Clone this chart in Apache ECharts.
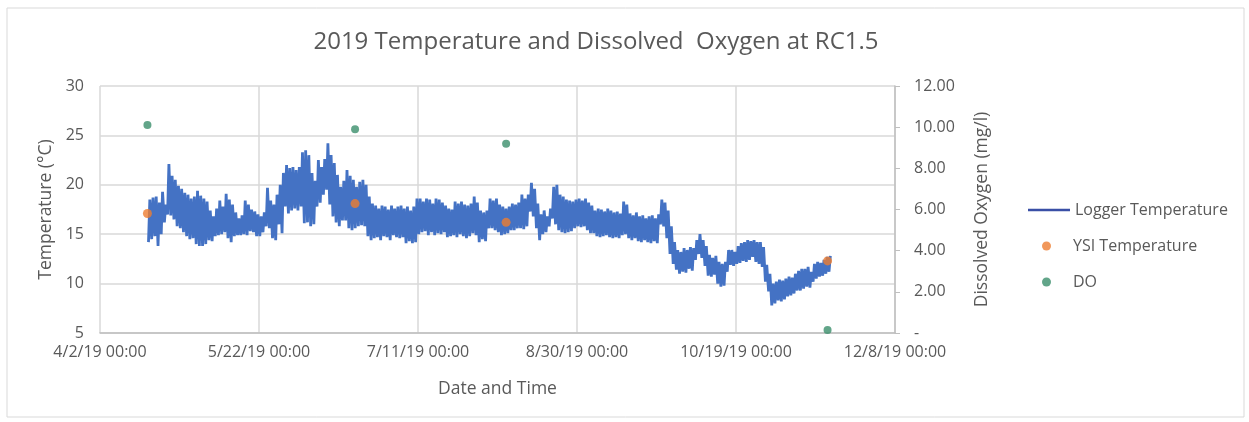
<!DOCTYPE html>
<html>
<head>
<meta charset="utf-8">
<script src="https://cdn.jsdelivr.net/npm/echarts@6/dist/echarts.min.js"></script>
<style>html,body{margin:0;padding:0;background:#fff}#c{width:1249px;height:422px}</style>
</head>
<body>
<div id="c"></div>
<script>
// x axis: days since 4/2/19 00:00
const xTickLabels = ['4/2/19 00:00','5/22/19 00:00','7/11/19 00:00','8/30/19 00:00','10/19/19 00:00','12/8/19 00:00'];
const loggerStart = '2019-04-17T00:00';
// daily maximum / minimum logger temperature (°C), from 4/17 to 11/17
const loggerMax = [
 18.5,18.7,18.8,18.2,19.3,18.0,22.1,20.9,20.5,19.9,
 19.6,19.2,19.0,18.6,18.8,19.4,18.9,18.6,18.3,17.4,
 16.8,17.6,18.4,17.8,19.1,18.5,18.0,17.2,16.6,16.9,
 18.4,18.0,17.5,17.3,17.0,16.8,17.2,19.7,18.4,18.0,
 19.0,20.0,21.2,22.0,21.7,21.8,21.5,21.8,23.3,23.5,
 23.0,21.2,20.4,22.5,21.8,22.6,24.2,23.0,22.2,21.0,
 19.8,20.4,21.5,20.9,20.5,19.8,20.3,20.5,20.0,18.8,
 18.1,17.9,17.6,17.9,17.8,17.5,17.9,17.6,17.8,17.9,
 17.6,17.8,17.4,17.8,18.6,18.6,18.3,18.6,18.5,18.1,
 18.6,18.5,18.2,17.9,17.6,17.5,18.3,18.1,18.3,18.0,
 17.9,18.1,18.8,18.2,17.4,17.2,17.4,18.6,18.4,18.6,
 18.0,17.8,17.6,17.8,18.1,18.0,18.2,19.0,18.6,19.0,
 20.2,19.6,18.1,17.0,17.4,16.8,17.6,19.8,20.0,19.0,
 18.8,18.5,18.4,18.3,18.5,18.6,18.4,18.6,18.2,17.9,
 17.4,17.6,17.5,17.3,17.6,17.4,17.2,17.3,17.1,18.3,
 18.0,17.1,16.9,17.2,16.8,16.9,16.6,16.8,16.9,16.6,
 17.0,18.5,18.2,17.4,15.8,14.2,13.4,13.2,13.6,13.4,
 13.7,13.6,14.4,15.0,14.4,13.8,12.9,12.6,12.8,12.2,
 12.0,12.2,13.4,13.4,13.2,13.8,14.1,14.2,14.4,14.3,
 14.4,14.2,14.2,13.7,11.9,11.0,10.0,10.2,10.4,10.3,
 10.5,10.7,10.6,11.0,11.3,11.5,11.5,11.7,11.2,12.0,
 12.2,12.1,12.4,12.7,12.8
];
const loggerMin = [
 14.2,14.5,14.8,13.8,15.0,16.2,17.0,16.9,16.5,15.8,
 15.6,15.2,14.8,14.5,14.6,14.0,13.8,13.8,14.0,14.4,
 14.3,14.8,14.9,15.0,15.2,14.6,14.2,14.8,14.9,14.9,
 15.0,14.9,15.3,15.2,14.8,14.8,15.2,15.8,15.6,14.6,
 14.4,16.0,15.1,17.8,17.1,17.4,17.6,17.4,17.8,16.1,
 16.2,15.8,16.0,17.8,18.2,19.0,19.5,18.0,16.8,16.2,
 15.8,16.4,16.4,15.6,15.4,15.6,15.8,15.9,15.8,14.8,
 14.4,14.6,14.7,14.4,14.8,14.7,14.4,14.9,14.7,14.6,
 14.7,14.1,14.3,14.1,14.2,15.0,15.2,15.3,14.9,15.2,
 14.9,15.1,15.0,15.2,14.7,14.8,14.9,14.7,15.0,14.8,
 14.6,14.8,15.1,14.9,14.2,14.5,14.3,15.6,15.6,15.4,
 15.2,14.9,15.0,15.1,15.4,15.4,15.6,15.6,15.5,15.8,
 17.3,16.8,15.6,14.4,15.0,15.2,15.8,16.6,16.0,15.4,
 15.2,15.1,15.2,15.3,15.6,15.8,15.7,15.8,15.4,15.1,
 15.1,14.8,14.7,14.8,14.9,14.7,14.6,14.7,14.6,14.9,
 15.0,14.6,14.4,14.6,14.3,14.2,14.4,14.2,14.1,14.3,
 14.1,16.0,15.8,14.6,13.0,12.0,11.4,11.0,11.2,11.1,
 11.5,11.3,12.4,13.0,12.6,11.8,10.8,10.7,10.9,10.0,
 9.7,9.8,11.2,11.9,11.8,12.0,12.1,12.3,12.2,12.4,
 12.7,12.2,12.0,11.7,10.2,9.2,7.8,8.0,8.3,8.2,
 8.4,8.7,8.8,9.0,9.3,9.3,9.5,9.7,9.6,10.2,
 10.5,10.7,10.8,11.0,11.2
];
// YSI sampling visits
const sampleTimes = ['2019-04-16T22:00','2019-06-21T05:00','2019-08-07T17:00','2019-11-16T19:00'];
const ysiTemp = [17.1, 18.1, 16.2, 12.3];
const doValues = [10.1, 9.9, 9.2, 0.15];

const startUTC = Date.UTC(2019,3,2);
function dayOf(s){ return (Date.parse(s + ':00Z') - startUTC) / 86400000; }

const d0 = dayOf(loggerStart);
const loggerData = [];
for (let i = 0; i < loggerMax.length; i++) {
  loggerData.push([d0 + i + 0.25, loggerMin[i]]);
  loggerData.push([d0 + i + 0.67, loggerMax[i]]);
}
const ysiData = sampleTimes.map((t,i) => [dayOf(t), ysiTemp[i]]);
const doData = sampleTimes.map((t,i) => [dayOf(t), doValues[i]]);

const FONT = 'Open Sans';
const TXT = '#595959';
const chart = echarts.init(document.getElementById('c'), null, {renderer:'canvas'});
chart.setOption({
  animation: false,
  backgroundColor: '#fff',
  textStyle: {fontFamily: FONT},
  graphic: [{type:'rect', shape:{x:7,y:8,width:1237,height:409}, style:{fill:'none', stroke:'#d9d9d9', lineWidth:1}, silent:true}],
  title: {
    text: '2019 Temperature and Dissolved  Oxygen at RC1.5',
    left: 591, top: 25, textAlign: 'center',
    textStyle: {fontFamily: FONT, fontSize: 24, fontWeight: 'normal', color: TXT}
  },
  grid: {left: 100, right: 354, top: 86, bottom: 89, containLabel: false},
  legend: [{
    data: [{name:'Logger Temperature', icon:'rect', itemStyle:{color:'#3a4fa6'}}],
    orient: 'vertical', left: 1023, top: 195, itemWidth: 42, itemHeight: 2.5,
    textStyle: {fontFamily: FONT, fontSize: 16, color: TXT, lineHeight: 20}
  },{
    data: [{name:'YSI Temperature', icon:'circle'}, {name:'DO', icon:'circle'}],
    orient: 'vertical', left: 1037, top: 231, itemWidth: 9, itemHeight: 9, itemGap: 16,
    textStyle: {fontFamily: FONT, fontSize: 16, color: TXT, lineHeight: 20, padding:[0,0,0,17]}
  }],
  xAxis: {
    type: 'value', min: 0, max: 250, interval: 50,
    name: 'Date and Time', nameLocation: 'middle', nameGap: 47,
    nameTextStyle: {fontFamily: FONT, fontSize: 17.5, color: TXT},
    axisLine: {show: true, lineStyle: {color: '#bfbfbf', width: 1.5}},
    axisTick: {show: false},
    axisLabel: {formatter: v => xTickLabels[Math.round(v/50)], color: TXT, fontSize: 16, margin: 11, fontFamily: FONT},
    splitLine: {show: true, lineStyle: {color: '#d9d9d9', width: 1.5}}
  },
  yAxis: [{
    type: 'value', min: 5, max: 30, interval: 5,
    name: 'Temperature (°C)', nameLocation: 'middle', nameGap: 44,
    nameTextStyle: {fontFamily: FONT, fontSize: 17.5, color: TXT},
    axisLine: {show: false}, axisTick: {show: false},
    axisLabel: {color: TXT, fontSize: 16, margin: 16, fontFamily: FONT},
    splitLine: {show: true, lineStyle: {color: '#d9d9d9', width: 1.5}}
  },{
    type: 'value', min: 0, max: 12, interval: 2, position: 'right',
    name: 'Dissolved Oxygen (mg/l)', nameLocation: 'middle', nameGap: 78,
    nameTextStyle: {fontFamily: FONT, fontSize: 17.5, color: TXT},
    axisLine: {show: true, lineStyle: {color: '#bfbfbf', width: 1.5}},
    axisTick: {show: true, length: 5, lineStyle: {color: '#bfbfbf'}},
    axisLabel: {color: TXT, fontSize: 16, margin: 19, fontFamily: FONT,
      formatter: v => v === 0 ? '-' : v.toFixed(2)},
    splitLine: {show: false}
  }],
  series: [{
    name: 'Logger Temperature', type: 'line', data: loggerData, yAxisIndex: 0,
    showSymbol: false, symbol: 'none', lineStyle: {color: '#4472c4', width: 2.8}, itemStyle: {color:'#4472c4'}, z: 2
  },{
    name: 'YSI Temperature', type: 'scatter', data: ysiData, yAxisIndex: 0,
    symbol: 'circle', symbolSize: 9, itemStyle: {color: '#ed7d31'}, z: 4
  },{
    name: 'DO', type: 'scatter', data: doData, yAxisIndex: 1,
    symbol: 'circle', symbolSize: 8, itemStyle: {color: '#3b8f6c'}, z: 4
  }]
});
</script>
</body>
</html>
